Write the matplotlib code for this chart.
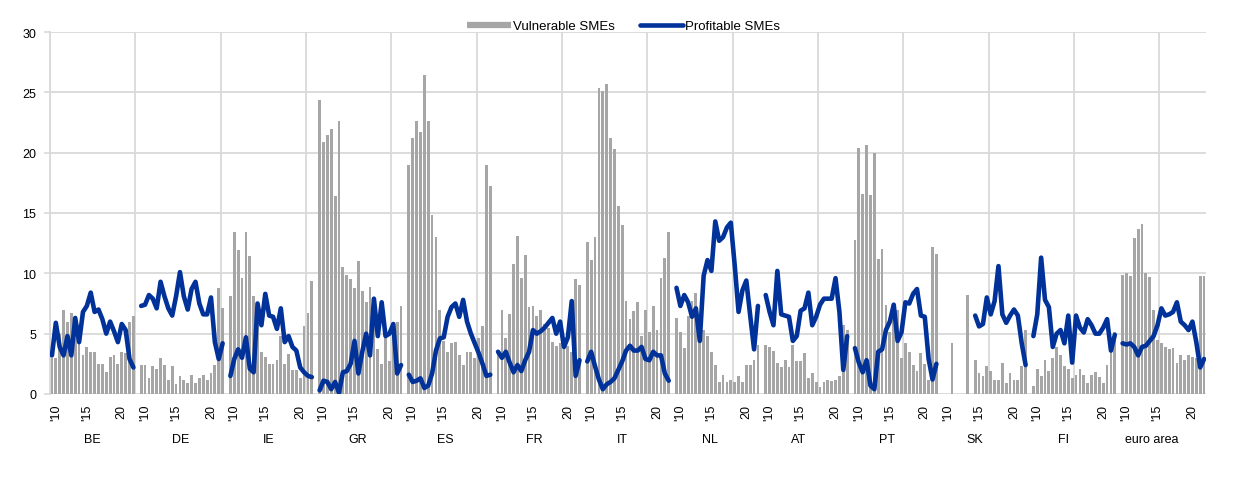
import numpy as np
import matplotlib
matplotlib.use("Agg")
import matplotlib.pyplot as plt
from matplotlib.lines import Line2D

plt.rcParams['font.family'] = ['Liberation Sans', 'DejaVu Sans']

nan = np.nan

countries = ['BE', 'DE', 'IE', 'GR', 'ES', 'FR', 'IT', 'NL', 'AT', 'PT', 'SK', 'FI', 'euro area']
year_labels = ["'10", "'15", "20"]
year_slots = [1, 9, 18]

# survey rounds per country (22 each)
be_vuln = [3.0, 3.0, 5.0, 7.0, 6.0, 6.7, 6.5, 5.7, 3.2, 3.9, 3.5, 3.5, 2.5, 2.5, 1.8, 3.1, 3.2, 2.5, 3.5, 3.4, 6.0, 6.5]
be_prof = [3.2, 5.9, 3.9, 3.2, 4.8, 3.2, 6.3, 4.3, 6.8, 7.3, 8.4, 6.8, 7.0, 6.2, 5.0, 6.0, 5.2, 4.3, 5.8, 5.3, 2.9, 2.2]

de_vuln = [2.4, 2.4, 1.3, 2.3, 2.1, 3.0, 2.4, 1.2, 2.3, 0.8, 1.5, 1.2, 0.9, 1.6, 0.9, 1.3, 1.6, 1.2, 1.7, 2.4, 8.8, 7.1]
de_prof = [7.3, 7.4, 8.2, 7.9, 7.1, 9.3, 8.1, 7.1, 6.5, 8.1, 10.1, 8.1, 7.0, 8.7, 9.3, 7.5, 6.6, 6.6, 8.0, 4.3, 2.9, 4.2]

ie_vuln = [8.1, 13.4, 11.9, 9.6, 13.4, 11.4, 8.1, 7.1, 3.5, 3.1, 2.5, 2.5, 2.8, 4.8, 2.5, 3.3, 2.0, 2.0, 1.3, 5.6, 6.7, 9.4]
ie_prof = [1.5, 2.9, 3.7, 3.0, 4.7, 2.1, 1.8, 7.5, 5.7, 8.3, 6.5, 6.4, 5.4, 7.1, 4.3, 4.8, 3.9, 3.6, 2.2, 1.8, 1.5, 1.4]

gr_vuln = [24.4, 20.9, 21.5, 22.0, 16.4, 22.6, 10.5, 9.9, 9.5, 8.8, 11.0, 8.5, 7.6, 8.9, 7.2, 3.7, 2.5, 4.6, 2.7, 5.6, 6.0, 7.3]
gr_prof = [0.3, 1.1, 1.0, 0.4, 1.0, 0.1, 1.8, 1.9, 2.5, 4.4, 1.7, 3.5, 5.0, 3.2, 7.9, 4.8, 7.6, 4.8, 5.0, 5.8, 1.7, 2.4]

es_vuln = [19.0, 21.2, 22.6, 21.7, 26.4, 22.6, 14.8, 13.0, 7.0, 4.4, 3.5, 4.2, 4.3, 3.2, 2.4, 3.5, 3.5, 3.0, 4.6, 5.6, 19.0, 17.2]
es_prof = [1.6, 1.0, 1.1, 1.3, 0.5, 0.7, 1.7, 3.6, 4.6, 4.7, 6.4, 7.2, 7.5, 6.4, 7.8, 6.0, 5.0, 4.2, 3.4, 2.5, 1.5, 1.6]

fr_vuln = [3.5, 7.0, 4.6, 6.6, 10.8, 13.1, 9.6, 11.5, 7.2, 7.3, 6.5, 7.0, 5.8, 5.5, 4.3, 4.0, 4.2, 4.0, 4.0, 3.5, 9.5, 9.0]
fr_prof = [3.5, 3.0, 3.5, 2.6, 1.8, 2.4, 1.9, 2.8, 3.5, 5.3, 5.0, 5.2, 5.5, 5.9, 6.3, 5.0, 6.0, 3.9, 4.7, 7.7, 1.5, 2.8]

it_vuln = [12.6, 11.1, 13.0, 25.4, 25.1, 25.7, 21.2, 20.3, 15.6, 14.0, 7.7, 6.2, 6.9, 7.6, 4.8, 7.0, 5.1, 7.3, 5.3, 9.6, 11.3, 13.4]
it_prof = [2.7, 3.5, 2.3, 1.2, 0.4, 0.8, 1.0, 1.3, 2.0, 2.7, 3.6, 4.0, 3.6, 3.6, 3.9, 2.9, 2.8, 3.5, 3.2, 3.2, 1.7, 1.1]

nl_vuln = [6.3, 5.1, 3.8, 6.5, 7.7, 8.4, 5.5, 5.3, 4.8, 3.5, 2.4, 1.0, 1.6, 1.0, 1.2, 1.0, 1.5, 1.0, 2.4, 2.4, 2.8, 4.1]
nl_prof = [8.8, 7.3, 8.2, 7.6, 6.4, 7.1, 4.4, 9.8, 11.1, 10.2, 14.3, 12.7, 13.0, 13.8, 14.2, 10.7, 6.8, 8.6, 9.4, 6.5, 3.7, 7.3]

at_vuln = [4.1, 3.9, 3.6, 2.6, 2.2, 2.8, 2.2, 4.1, 2.7, 2.7, 3.4, 1.3, 1.7, 1.0, 0.6, 1.0, 1.2, 1.1, 1.2, 1.5, 5.7, 5.3]
at_prof = [8.2, 6.8, 5.7, 10.2, 6.6, 6.5, 6.4, 4.4, 4.8, 6.9, 7.1, 8.4, 5.7, 6.4, 7.4, 7.9, 7.9, 7.9, 9.6, 6.8, 2.0, 4.8]

pt_vuln = [12.8, 20.4, 16.6, 20.6, 16.5, 20.0, 11.2, 12.0, 7.4, 5.1, 6.5, 7.0, 3.0, 4.2, 3.5, 2.4, 1.9, 3.4, 2.5, 1.2, 12.2, 11.6]
pt_prof = [3.8, 2.6, 1.8, 2.8, 0.7, 0.4, 3.5, 3.7, 5.3, 6.0, 7.4, 4.4, 5.1, 7.6, 7.5, 8.3, 8.7, 6.5, 6.4, 2.9, 1.2, 2.5]

sk_vuln = [nan, nan, 4.2, nan, nan, nan, 8.2, nan, 2.8, 1.7, 1.5, 2.3, 1.9, 1.2, 1.2, 2.6, 0.9, 1.7, 1.2, 1.2, 2.3, 5.3]
sk_prof = [nan, nan, nan, nan, nan, nan, nan, nan, 6.5, 5.6, 5.8, 8.0, 6.6, 7.7, 10.6, 6.6, 5.9, 6.5, 7.0, 6.5, 4.2, 2.4]

fi_vuln = [0.7, 2.1, 1.5, 2.8, 1.9, 3.0, 3.9, 3.2, 2.3, 2.1, 1.3, 1.6, 2.1, 1.6, 0.9, 1.6, 1.8, 1.4, 0.9, 2.4, 4.2, 5.1]
fi_prof = [4.8, 6.6, 11.3, 7.8, 7.2, 3.9, 5.0, 5.3, 4.2, 6.5, 2.6, 6.5, 5.5, 5.1, 6.2, 5.7, 5.0, 5.0, 5.5, 6.2, 3.6, 4.9]

ea_vuln = [9.9, 10.0, 9.8, 12.9, 13.7, 14.1, 10.0, 9.7, 7.0, 4.5, 4.2, 3.9, 3.7, 3.8, 2.6, 3.2, 2.8, 3.2, 3.1, 3.0, 9.8, 9.8]
ea_prof = [4.2, 4.1, 4.2, 3.9, 3.2, 3.9, 4.0, 4.4, 4.8, 5.7, 7.1, 6.5, 6.6, 6.8, 7.6, 6.0, 5.7, 5.3, 6.0, 4.3, 2.2, 2.9]

vuln_series = [be_vuln, de_vuln, ie_vuln, gr_vuln, es_vuln, fr_vuln, it_vuln,
               nl_vuln, at_vuln, pt_vuln, sk_vuln, fi_vuln, ea_vuln]
prof_series = [be_prof, de_prof, ie_prof, gr_prof, es_prof, fr_prof, it_prof,
               nl_prof, at_prof, pt_prof, sk_prof, fi_prof, ea_prof]

BAR_COLOR = '#a6a6a6'
LINE_COLOR = '#003299'
GRID_COLOR = '#d9d9d9'

n_pts = len(be_vuln)
step = n_pts + 1  # one empty category between countries

fig = plt.figure(figsize=(12.4, 4.85), dpi=100)
ax = fig.add_axes([50 / 1240, 1 - 395 / 485, 1156 / 1240, 362 / 485])

tick_pos, tick_lab = [], []
for i, (vals, prof) in enumerate(zip(vuln_series, prof_series)):
    xs = np.arange(n_pts) + i * step
    heights = np.nan_to_num(np.array(vals, dtype=float))
    ax.bar(xs, heights, width=0.72, color=BAR_COLOR, linewidth=0, zorder=2)
    ax.plot(xs, prof, color=LINE_COLOR, lw=3.3, solid_joinstyle='round',
            solid_capstyle='round', zorder=3)
    for s, lab in zip(year_slots, year_labels):
        tick_pos.append(i * step + s)
        tick_lab.append(lab)
    # category labels sit slightly left of the group centre, as in the source
    ax.text((n_pts - 1) / 2 + i * (step - 0.25), -0.124, countries[i],
            transform=ax.get_xaxis_transform(), ha='center', va='center', fontsize=9)

total = len(countries) * step - 1
ax.set_xlim(-0.5, total - 0.5)
ax.set_ylim(0, 30)
ax.set_yticks(np.arange(0, 31, 5))

# vertical gridlines every 22 categories
for gx in np.arange(-0.5, total - 0.5, n_pts):
    ax.axvline(gx, color=GRID_COLOR, lw=1.3, zorder=0)
ax.yaxis.grid(True, color=GRID_COLOR, lw=1.3, zorder=0)
ax.set_axisbelow(True)

ax.set_xticks(tick_pos)
ax.set_xticklabels(tick_lab, rotation=90, fontsize=9)
ax.tick_params(axis='x', length=0, pad=7)
ax.tick_params(axis='y', length=4, width=1.2, color=GRID_COLOR, labelsize=9, pad=6)

for side in ['top', 'right', 'bottom']:
    ax.spines[side].set_visible(False)
ax.spines['left'].set_color(GRID_COLOR)
ax.spines['left'].set_linewidth(1.3)

handles = [Line2D([], [], color=BAR_COLOR, lw=4.5, solid_capstyle='butt'),
           Line2D([], [], color=LINE_COLOR, lw=3.3, solid_capstyle='round')]
fig.legend(handles, ['Vulnerable SMEs', 'Profitable SMEs'], loc='center',
           bbox_to_anchor=(0.503, 1 - 27 / 485), ncol=2, frameon=False,
           fontsize=9.5, handlelength=3.3, handletextpad=0.15, columnspacing=1.9)

fig.savefig('out.png', dpi=100)
